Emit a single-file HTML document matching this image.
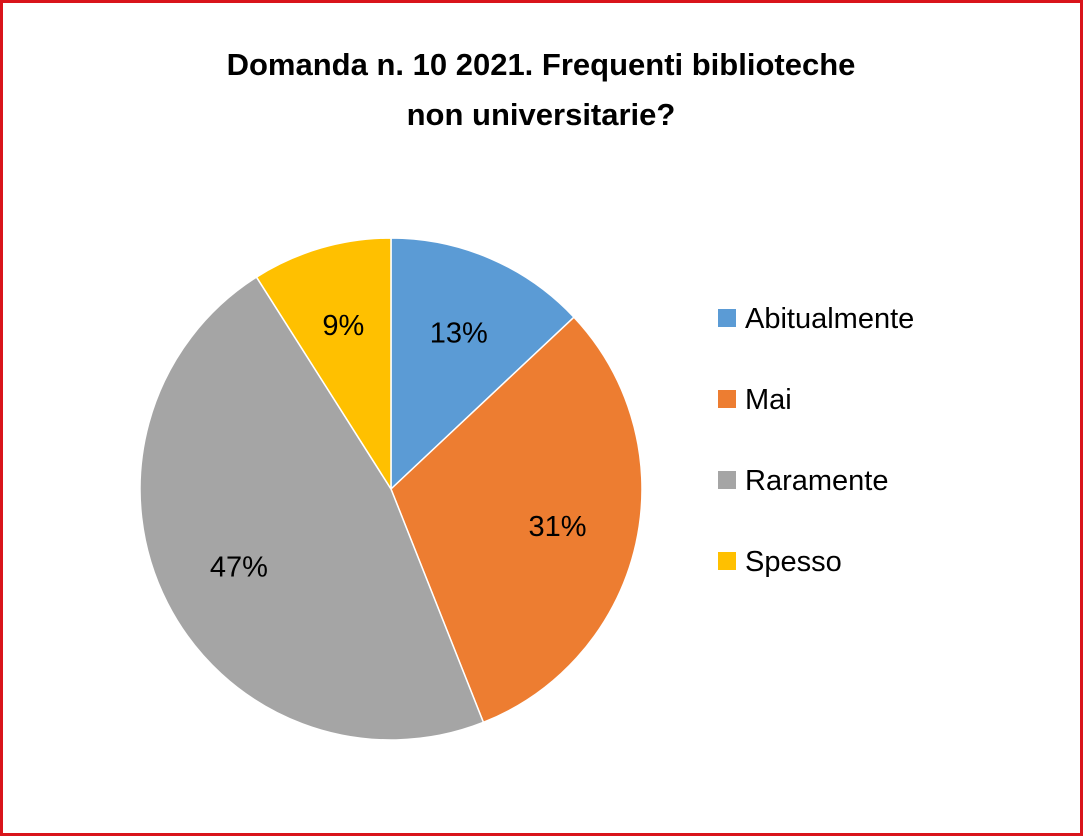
<!DOCTYPE html>
<html><head><meta charset="utf-8"><style>
html,body{margin:0;padding:0;background:#fff;}
body{width:1083px;height:836px;overflow:hidden;font-family:"Liberation Sans",Carlito,sans-serif;}
#frame{position:absolute;left:0;top:0;width:1077px;height:830px;border:3px solid #d9141b;}
</style></head><body>
<div id="frame"></div>
<svg width="1083" height="836" style="position:absolute;left:0;top:0">
<text x="541" y="75" text-anchor="middle" font-size="31" font-weight="bold" fill="#000">Domanda n. 10 2021. Frequenti biblioteche</text>
<text x="541" y="125" text-anchor="middle" font-size="31" font-weight="bold" fill="#000">non universitarie?</text>
<g id="slices"></g><g id="labels"></g><g id="legend"></g>
</svg>
<script>
const categories=["Abitualmente","Mai","Raramente","Spesso"];
const values=[13,31,47,9];
const valueLabels=["13%","31%","47%","9%"];
const colors=["#5b9bd5","#ed7d31","#a5a5a5","#ffc000"];
const cx=391,cy=489,r=251;
const NS="http://www.w3.org/2000/svg";
const total=values.reduce((a,b)=>a+b,0);
function pt(a,rr){return [cx+rr*Math.sin(a),cy-rr*Math.cos(a)];}
let acc=0;
const sl=document.getElementById('slices'),lb=document.getElementById('labels'),lg=document.getElementById('legend');
values.forEach((v,i)=>{
 const a0=acc/total*2*Math.PI;acc+=v;const a1=acc/total*2*Math.PI;
 const p0=pt(a0,r),p1=pt(a1,r);
 const path=document.createElementNS(NS,'path');
 path.setAttribute('d',`M${cx},${cy}L${p0[0]},${p0[1]}A${r},${r} 0 ${a1-a0>Math.PI?1:0} 1 ${p1[0]},${p1[1]}Z`);
 path.setAttribute('fill',colors[i]);path.setAttribute('stroke','#fff');path.setAttribute('stroke-width','1.5');
 
 
 sl.appendChild(path);
 const m=pt((a0+a1)/2,r*0.68);
 const t=document.createElementNS(NS,'text');
 t.setAttribute('x',m[0]);t.setAttribute('y',m[1]+10);t.setAttribute('text-anchor','middle');
 t.setAttribute('font-size','29');t.textContent=valueLabels[i];
 
 
 lb.appendChild(t);
 const y=318+i*81;
 const g=document.createElementNS(NS,'g');
 
 
 const rc=document.createElementNS(NS,'rect');
 rc.setAttribute('x',718);rc.setAttribute('y',y-9);rc.setAttribute('width',18);rc.setAttribute('height',18);rc.setAttribute('fill',colors[i]);
 const tx=document.createElementNS(NS,'text');
 tx.setAttribute('x',745);tx.setAttribute('y',y+10);tx.setAttribute('font-size','29');tx.textContent=categories[i];
 g.appendChild(rc);g.appendChild(tx);lg.appendChild(g);
});
</script>
</body></html>
